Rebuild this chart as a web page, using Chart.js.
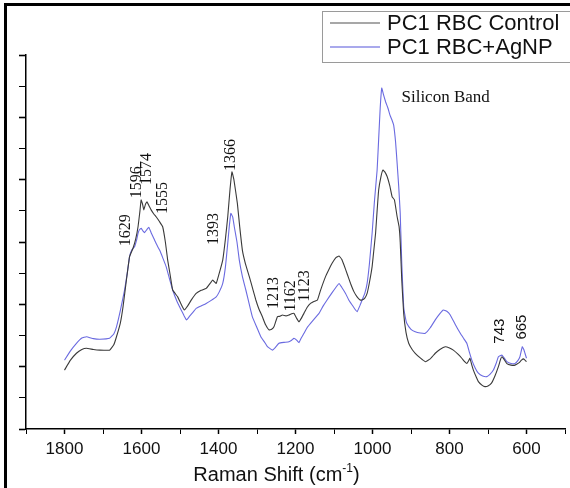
<!DOCTYPE html>
<html><head><meta charset="utf-8">
<script src="https://cdn.jsdelivr.net/npm/chart.js@4.4.1/dist/chart.umd.min.js"></script>
<style>html,body{margin:0;padding:0;background:#fff}#wrap{width:570px;height:488px}</style>
</head><body><div id="wrap"><canvas id="c" width="570" height="488"></canvas></div>
<script>
// ---- data (Raman shift in cm^-1, intensity in arbitrary units) ----
const controlShift = [1800,1785,1769,1755,1743,1725,1708,1683,1672,1665,1655,1648,1640,1631,1622,1615,1609,1604,1601,1597,1594,1590,1586,1580,1575,1568,1562,1553,1545,1538,1532,1525,1519,1506,1497,1489,1480,1470,1458,1445,1432,1420,1415,1406,1398,1389,1382,1376,1370,1365,1360,1351,1345,1338,1330,1320,1310,1303,1295,1286,1278,1269,1262,1256,1247,1240,1234,1225,1217,1210,1204,1197,1191,1185,1178,1170,1161,1150,1143,1135,1122,1112,1105,1095,1087,1080,1074,1065,1057,1048,1040,1033,1027,1020,1014,1008,1001,996,992,988,984,978,973,968,962,955,949,943,936,931,928,924,919,913,906,897,889,876,863,850,837,825,811,800,790,778,768,760,755,750,747,742,738,730,725,715,708,700,691,682,673,667,664,659,651,640,630,620,613,608,604,600];
const controlIntensity = [1.89,2.2,2.43,2.55,2.59,2.55,2.53,2.53,2.7,2.96,3.4,3.92,4.7,5.53,5.8,6.1,6.49,7.0,7.35,7.2,7.03,7.2,7.29,7.15,7.03,6.9,6.81,6.65,6.49,6.0,5.42,4.9,4.46,4.24,4.0,3.82,3.95,4.15,4.35,4.45,4.51,4.7,4.78,4.67,5.0,5.42,6.1,6.81,7.7,8.25,8.0,7.24,6.5,5.74,5.3,4.89,4.45,4.14,3.85,3.6,3.35,3.18,3.2,3.28,3.6,3.62,3.66,3.63,3.66,3.7,3.71,3.55,3.44,3.55,3.71,3.9,4.03,4.1,4.14,4.45,4.89,5.15,5.32,5.5,5.55,5.45,5.26,4.95,4.67,4.4,4.24,4.15,4.14,4.2,4.35,4.7,5.21,5.8,6.28,7.0,7.67,8.1,8.31,8.25,8.1,7.8,7.45,7.35,6.81,6.5,6.0,4.78,3.71,3.1,2.75,2.55,2.43,2.28,2.16,2.25,2.43,2.55,2.64,2.6,2.53,2.4,2.27,2.15,2.1,2.2,2.27,2.05,1.89,1.65,1.52,1.4,1.36,1.38,1.47,1.7,2.0,2.25,2.32,2.25,2.1,2.05,2.05,2.12,2.21,2.25,2.21,2.16];
const agnpShift = [1800,1785,1769,1755,1743,1725,1708,1683,1672,1665,1655,1644,1637,1631,1625,1618,1613,1609,1605,1601,1596,1592,1586,1581,1575,1570,1562,1553,1545,1536,1528,1519,1508,1497,1490,1483,1475,1466,1458,1445,1432,1420,1406,1398,1389,1382,1376,1372,1368,1363,1359,1352,1346,1338,1329,1320,1312,1300,1290,1280,1273,1266,1260,1252,1243,1230,1217,1210,1204,1197,1191,1185,1178,1170,1161,1150,1139,1128,1118,1108,1100,1093,1087,1080,1070,1062,1053,1046,1040,1033,1027,1020,1014,1008,1001,995,988,984,980,976,972,966,960,954,949,945,940,936,932,928,924,919,915,911,900,889,876,863,850,837,825,816,807,798,785,772,763,755,748,742,733,725,714,703,695,686,679,673,664,658,651,640,630,622,617,611,607,604,600];
const agnpIntensity = [2.21,2.5,2.75,2.92,2.96,2.9,2.88,2.91,3.05,3.28,3.8,4.46,5.0,5.53,5.75,5.85,6.05,6.28,6.4,6.44,6.35,6.3,6.4,6.47,6.3,6.17,5.95,5.74,5.5,5.21,4.85,4.46,4.1,3.82,3.65,3.5,3.62,3.75,3.87,3.95,4.03,4.12,4.24,4.4,4.67,5.2,5.96,6.5,6.92,6.8,6.49,6.0,5.42,4.9,4.46,4.0,3.6,3.25,2.96,2.78,2.64,2.58,2.53,2.62,2.75,2.78,2.8,2.85,2.91,2.85,2.77,2.92,3.07,3.25,3.39,3.55,3.71,3.95,4.14,4.32,4.46,4.58,4.67,4.55,4.35,4.15,3.98,3.85,3.76,3.95,4.14,4.35,4.67,5.3,6.28,7.3,8.31,9.3,10.3,10.94,10.75,10.5,10.3,10.05,9.9,9.75,9.2,8.52,7.8,6.92,5.32,3.92,3.6,3.39,3.2,3.12,3.08,3.07,3.25,3.5,3.7,3.82,3.78,3.66,3.35,3.07,2.9,2.75,2.45,2.21,1.95,1.79,1.7,1.68,1.75,1.89,2.1,2.32,2.37,2.28,2.16,2.1,2.1,2.2,2.32,2.64,2.55,2.43,2.27];
const seriesNames = ['PC1 RBC Control', 'PC1 RBC+AgNP'];
const xTickLabels = [1800, 1600, 1400, 1200, 1000, 800, 600];
// peak annotations: text, anchor shift, anchor intensity
const peakText  = ['1629','1596','1574','1555','1393','1366','1213','1162','1123','743','665'];
const peakShift = [1641,1613,1587,1545,1411,1367,1256,1212,1175,668,611];
const peakLevel = [6.38,7.92,8.34,7.41,6.42,8.79,4.36,4.27,4.59,3.14,3.27];
const bandText = 'Silicon Band', bandShift = 810, bandLevel = 10.65;

const toPts = (xs, ys) => xs.map((x, i) => ({x: x, y: ys[i]}));

const SANS = '"Liberation Sans", Arial, sans-serif';
const SERIF = '"Liberation Serif", "Times New Roman", serif';

const decor = {
  id: 'decor',
  beforeDraw(chart) {
    const c = chart.ctx;
    c.save(); c.fillStyle = '#fff'; c.fillRect(0, 0, chart.width, chart.height); c.restore();
  },
  afterDraw(chart) {
    const c = chart.ctx, xs = chart.scales.x, ys = chart.scales.y;
    c.save();
    // outer frame (left and top)
    c.fillStyle = '#000';
    c.fillRect(4, 3, 3, chart.height);
    c.fillRect(4, 3, chart.width, 3);
    // rotated peak labels
    c.fillStyle = '#111';
    peakText.forEach((t, i) => {
      const px = xs.getPixelForValue(peakShift[i]), py = ys.getPixelForValue(peakLevel[i]);
      c.save();
      c.translate(px, py); c.rotate(-Math.PI / 2);
      c.font = (i >= 9 ? '15px ' + SANS : '16px ' + SERIF);
      c.textAlign = 'center'; c.textBaseline = 'middle';
      c.fillText(t, 0, 0);
      c.restore();
    });
    c.font = '17px ' + SERIF; c.textAlign = 'center'; c.textBaseline = 'middle';
    c.fillText(bandText, xs.getPixelForValue(bandShift), ys.getPixelForValue(bandLevel));
    // x-axis title with superscript
    const cx = 276.5, by = 481;
    c.font = '20px ' + SANS; c.textBaseline = 'alphabetic'; c.textAlign = 'left';
    const a = 'Raman Shift (cm', s = '-1', b = ')';
    const wa = c.measureText(a).width, wb = c.measureText(b).width;
    c.font = '12px ' + SANS; const ws = c.measureText(s).width;
    let x0 = cx - (wa + ws + wb) / 2;
    c.font = '20px ' + SANS; c.fillText(a, x0, by);
    c.font = '12px ' + SANS; c.fillText(s, x0 + wa, by - 9);
    c.font = '20px ' + SANS; c.fillText(b, x0 + wa + ws, by);
    // legend box
    c.strokeStyle = '#9a9a9a'; c.lineWidth = 1;
    c.strokeRect(322.5, 11.5, 260, 51);
    const ds = chart.data.datasets;
    [23, 47].forEach((yy, i) => {
      c.strokeStyle = ds[i].legendColor; c.lineWidth = 1.3;
      c.beginPath(); c.moveTo(330, yy); c.lineTo(380, yy); c.stroke();
      c.fillStyle = '#111'; c.font = '22px ' + SANS; c.textBaseline = 'middle';
      c.fillText(ds[i].label, 387, yy + 1);
    });
    c.restore();
  }
};

new Chart(document.getElementById('c'), {
  type: 'line',
  data: {
    datasets: [
      { label: seriesNames[0], data: toPts(controlShift, controlIntensity), borderColor: '#3a3a3a', legendColor: '#8a8a8a', borderWidth: 1.1, pointRadius: 0, tension: 0.1, fill: false },
      { label: seriesNames[1], data: toPts(agnpShift, agnpIntensity), borderColor: '#6a6ae0', legendColor: '#8c8ce6', borderWidth: 1.1, pointRadius: 0, tension: 0.1, fill: false }
    ]
  },
  options: {
    responsive: false, animation: false, devicePixelRatio: 1,
    layout: { padding: { top: 55, right: 3, left: 0, bottom: 0 } },
    plugins: { legend: { display: false }, tooltip: { enabled: false }, title: { display: false } },
    scales: {
      x: {
        type: 'linear', reverse: true, min: 500, max: 1900,
        afterFit: s => { s.height = 59; },
        ticks: { stepSize: 100, autoSkip: false, maxRotation: 0, padding: 5, color: '#111',
          font: { family: SANS, size: 17 },
          callback: v => xTickLabels.includes(v) ? String(v) : '' },
        grid: { drawOnChartArea: false, drawTicks: true, tickLength: 5, tickColor: '#000',
          tickWidth: ctx => (ctx.tick && xTickLabels.includes(ctx.tick.value)) ? 1.5 : 1 },
        border: { color: '#000', width: 1.5 }
      },
      y: {
        min: 0, max: 12,
        afterFit: s => { s.width = 26; },
        ticks: { stepSize: 1, autoSkip: false, callback: () => '' },
        grid: { drawOnChartArea: false, drawTicks: true, tickLength: 7, tickColor: '#000',
          tickWidth: ctx => (ctx.tick && ctx.tick.value % 2 === 0) ? 1.6 : 1 },
        border: { color: '#000', width: 1.5 }
      }
    }
  },
  plugins: [decor]
});
</script></body></html>
